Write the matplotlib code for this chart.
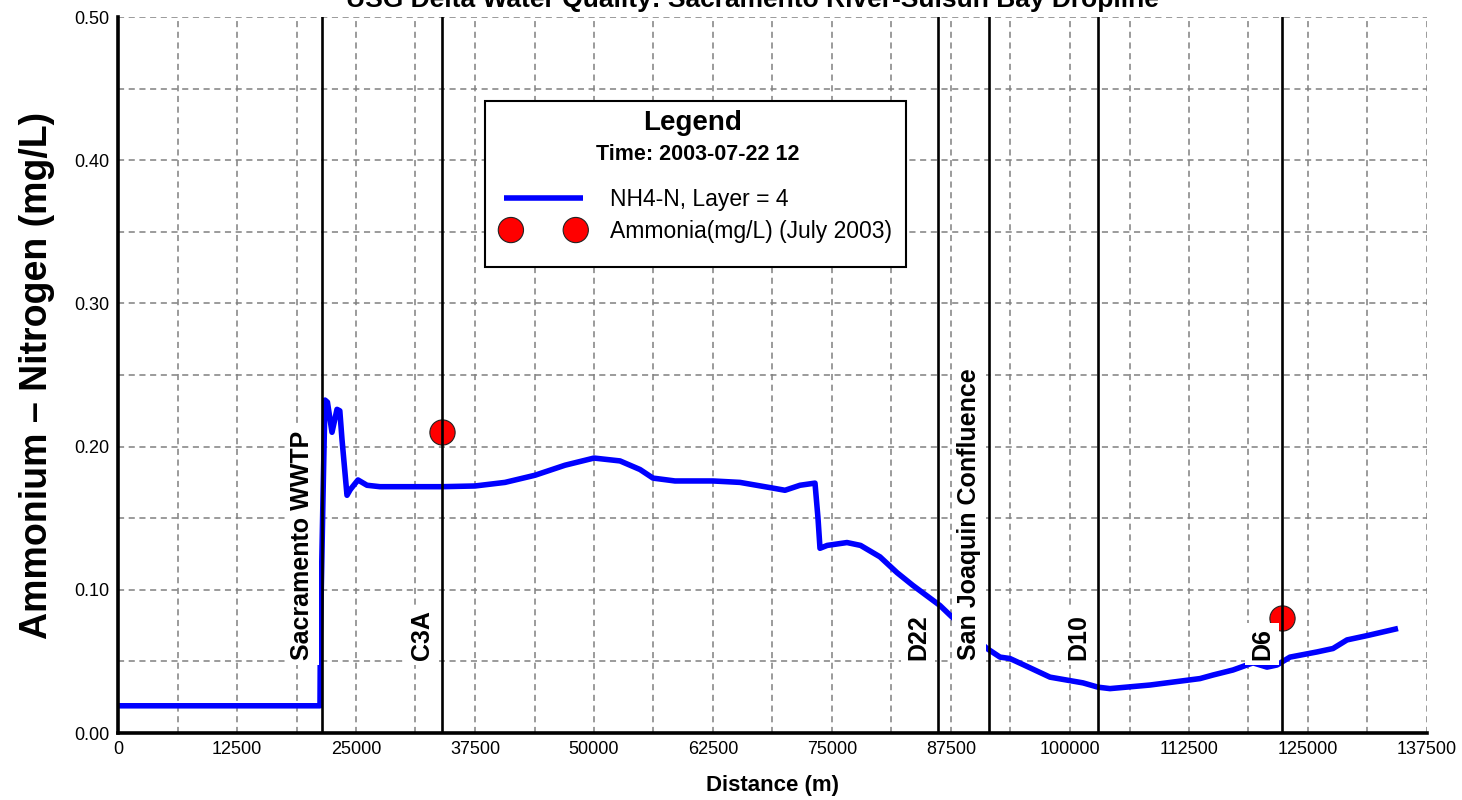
import matplotlib
matplotlib.use("Agg")
import matplotlib.pyplot as plt
from matplotlib.patches import Rectangle
import numpy as np

plt.rcParams['font.family'] = ['Liberation Sans', 'DejaVu Sans']

# ---- data ----
title = "USG Delta Water Quality: Sacramento River-Suisun Bay Dropline"
distance_m = [0, 21218, 21260, 21534, 21744, 22000, 22479, 23004, 23300, 23529, 24055,
              24400, 25210, 26155, 27521, 30042, 34034, 37500, 40650, 43803, 46954,
              50000, 52731, 54832, 56197, 58508, 62500, 65336, 68803, 70063, 71639,
              73214, 73529, 73739, 74500, 76575, 78000, 80042, 81828, 83508, 86345,
              87605, 91282, 92647, 93697, 95000, 97899, 101366, 102941, 104202, 108403,
              113655, 115021, 117122, 119223, 120693, 121744, 123109, 125945, 127626,
              129097, 131197, 134454]
nh4_mgL = [0.019, 0.019, 0.068, 0.165, 0.2325, 0.231, 0.210, 0.226, 0.225, 0.205, 0.166,
           0.170, 0.1767, 0.173, 0.172, 0.172, 0.172, 0.1725, 0.175, 0.180, 0.187,
           0.192, 0.190, 0.184, 0.178, 0.176, 0.176, 0.175, 0.171, 0.1695, 0.173,
           0.1745, 0.150, 0.129, 0.131, 0.133, 0.131, 0.123, 0.112, 0.103, 0.089,
           0.081, 0.059, 0.053, 0.052, 0.048, 0.039, 0.035, 0.032, 0.031, 0.0335,
           0.038, 0.0405, 0.044, 0.049, 0.046, 0.0475, 0.053, 0.0566, 0.059,
           0.065, 0.068, 0.073]

obs_distance_m = [34034, 122269]
obs_ammonia = [0.210, 0.080]

station_names = ["Sacramento WWTP", "C3A", "D22", "San Joaquin Confluence", "D10", "D6"]
station_distance_m = [21430, 34034, 86130, 91490, 102940, 122270]

x_ticks = list(range(0, 137501, 12500))
y_ticks = [0.0, 0.1, 0.2, 0.3, 0.4, 0.5]

line_label = "NH4-N, Layer = 4"
obs_label = "Ammonia(mg/L) (July 2003)"
legend_time = "Time: 2003-07-22 12"

# ---- figure ----
fig = plt.figure(figsize=(14.62, 8.0), dpi=100)
ax = fig.add_axes([118/1462, 1-733/800, (1427-118)/1462, (733-17)/800])

ax.set_xlim(0, 137500)
ax.set_ylim(0, 0.5)

ax.set_xticks(x_ticks)
ax.set_xticks(np.arange(0, 137501, 6250), minor=True)
ax.set_yticks(y_ticks)
ax.set_yticks(np.arange(0, 0.5001, 0.05), minor=True)
ax.set_yticklabels([f"{v:.2f}" for v in y_ticks])
ax.tick_params(which='both', length=0, labelsize=13, pad=6)

ax.grid(True, which='both', color='#808080', linestyle=(0, (4, 3)), linewidth=1.1, zorder=0.5)
ax.set_axisbelow(True)

for s in ['top', 'right']:
    ax.spines[s].set_visible(False)
for s in ['left', 'bottom']:
    ax.spines[s].set_linewidth(2.6)
    ax.spines[s].set_color('black')
    ax.spines[s].set_zorder(6)

ln, = ax.plot(distance_m, nh4_mgL, color='#0000ff', lw=4.0, zorder=2,
              solid_capstyle='butt', label=line_label)
sc = ax.scatter(obs_distance_m, obs_ammonia, s=330, color='#ff0000', edgecolor='#222222',
                linewidth=0.8, zorder=3, label=obs_label)

for name, xd in zip(station_names, station_distance_m):
    ax.axvline(xd, color='black', lw=1.9, zorder=5)
    ax.text(xd - 2100, 0.051, name, rotation=90, ha='center', va='bottom',
            fontsize=18, fontweight='bold', zorder=4,
            bbox=dict(boxstyle='square,pad=0.2', facecolor='white', edgecolor='none'))

ax.set_xlabel("Distance (m)", fontsize=16, fontweight='bold', labelpad=12)
ax.set_ylabel("Ammonium \u2013 Nitrogen (mg/L)", fontsize=27, fontweight='bold', labelpad=14)

fig.text(752/1462, 1-7/800, title, ha='center', va='baseline', fontsize=19, fontweight='bold')

# legend box
ax.add_patch(Rectangle((0.2804, 0.6508), 0.602-0.2804, 0.8827-0.6508, transform=ax.transAxes,
                       facecolor='white', edgecolor='black', lw=1.5, zorder=7))
ax.text(0.4393, 0.842, "Legend", transform=ax.transAxes, ha='center', va='baseline',
        fontsize=20, fontweight='bold', zorder=8)
ax.text(0.443, 0.800, legend_time, transform=ax.transAxes, ha='center', va='baseline',
        fontsize=15.5, fontweight='bold', zorder=8)
leg = ax.legend(handles=[ln, sc], labels=[line_label, obs_label], loc='center left',
                bbox_to_anchor=(0.2949, 0.7228), frameon=False, fontsize=16.5,
                handlelength=3.43, handletextpad=1.2, labelspacing=0.4,
                borderpad=0, borderaxespad=0, scatterpoints=2, scatteryoffsets=[0.5],
                markerscale=1.0)
leg.set_zorder(9)

fig.savefig("out.png", dpi=100)
